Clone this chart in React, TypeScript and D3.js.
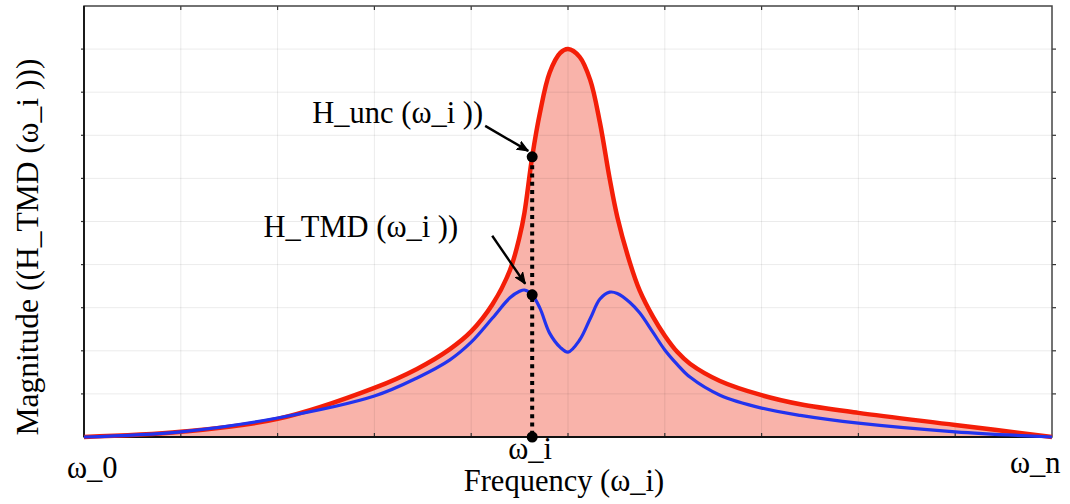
import React from "react";
import * as d3 from "d3";

// ---- data ----
const frequency = [0, 1, 2, 3, 3.44, 3.78, 4.0, 4.22, 4.4, 4.5, 4.55, 4.63, 4.71, 4.81, 4.92, 5.0, 5.12, 5.23, 5.33, 5.43, 5.51, 5.64, 5.74, 5.88, 6.0, 6.13, 6.26, 6.57, 7.0, 7.4, 8, 9, 10];
const hUnc = [0, 0.12, 0.42, 1.14, 1.58, 2.04, 2.45, 3.08, 3.87, 4.65, 5.2, 6.5, 7.52, 8.45, 8.91, 9.0, 8.82, 8.28, 7.29, 6.0, 5.1, 4.04, 3.4, 2.78, 2.35, 1.97, 1.7, 1.3, 0.97, 0.76, 0.56, 0.28, 0];
const hTmd = [0, 0.12, 0.44, 0.95, 1.37, 1.79, 2.2, 2.76, 3.23, 3.38, 3.41, 3.3, 2.99, 2.41, 2.08, 1.97, 2.25, 2.75, 3.2, 3.36, 3.33, 3.12, 2.88, 2.42, 2.02, 1.68, 1.39, 0.97, 0.67, 0.5, 0.32, 0.12, 0];
const omegaI = 4.63;
const xTickLabels = ["ω_0", "ω_i", "ω_n"];
const xDomain = [0, 10];
const yDomain = [0, 10];

const W = 1070;
const H = 504;
const FONT = "'Liberation Serif', 'Times New Roman', serif";

export default function App() {
  const x = d3.scaleLinear().domain(xDomain).range([84, 1052]);
  const y = d3.scaleLinear().domain(yDomain).range([437, 6]);

  const rows = frequency.map((f, i) => ({ f, u: hUnc[i], t: hTmd[i] }));
  const curve = d3.curveCatmullRom.alpha(0.5);
  const area = d3.area<any>().x((d) => x(d.f)).y0(y(0)).y1((d) => y(d.u)).curve(curve);
  const lineU = d3.line<any>().x((d) => x(d.f)).y((d) => y(d.u)).curve(curve);
  const lineT = d3.line<any>().x((d) => x(d.f)).y((d) => y(d.t)).curve(curve);

  const idx = frequency.indexOf(omegaI);
  const dx = x(omegaI);
  const dyU = y(hUnc[idx]);
  const dyT = y(hTmd[idx]);
  const dy0 = y(0);

  const xt = x.ticks(10);
  const yt = y.ticks(10);

  return (
    <div style={{ position: "absolute", left: 0, top: 0 }}>
      <svg width={W} height={H} style={{ display: "block", background: "#fff" }}>
        <defs>
          <marker id="ah" viewBox="0 0 12 10" refX="11" refY="5" markerWidth="12" markerHeight="10" markerUnits="userSpaceOnUse" orient="auto">
            <path d="M0,0.5 L11,5 L0,9.5 L3,5 Z" fill="#000" stroke="#000" strokeWidth="1.2" strokeLinejoin="round" />
          </marker>
        </defs>
        {/* fill */}
        <path d={area(rows) || ""} fill="#f9b3aa" />
        {/* grid */}
        <g stroke="#000" strokeOpacity={0.08} strokeWidth={1}>
          {xt.slice(1, -1).map((t) => (
            <line key={"gx" + t} x1={x(t)} x2={x(t)} y1={y(10)} y2={y(0)} />
          ))}
          {yt.slice(1, -1).map((t) => (
            <line key={"gy" + t} x1={x(0)} x2={x(10)} y1={y(t)} y2={y(t)} />
          ))}
        </g>
        {/* ticks */}
        <g stroke="#333" strokeWidth={1.2}>
          {xt.slice(1, -1).map((t) => (
            <g key={"tx" + t}>
              <line x1={x(t)} x2={x(t)} y1={y(0) - 4} y2={y(0)} />
              <line x1={x(t)} x2={x(t)} y1={y(10)} y2={y(10) + 4} />
            </g>
          ))}
          {yt.slice(1, -1).map((t) => (
            <g key={"ty" + t}>
              <line x1={x(0) - 3} x2={x(0)} y1={y(t)} y2={y(t)} />
              <line x1={x(10)} x2={x(10) + 4} y1={y(t)} y2={y(t)} />
            </g>
          ))}
        </g>
        {/* frame */}
        <rect x={x(0)} y={y(10)} width={x(10) - x(0)} height={y(0) - y(10)} fill="none" stroke="#444" strokeWidth={1.5} />
        <line x1={x(0)} x2={x(0)} y1={y(10)} y2={y(0)} stroke="#111" strokeWidth={1.8} />
        <line x1={x(0)} x2={x(10)} y1={y(0)} y2={y(0)} stroke="#111" strokeWidth={1.8} />
        {/* curves */}
        <path d={lineU(rows) || ""} fill="none" stroke="#f41e08" strokeWidth={4.5} strokeLinejoin="round" />
        <path d={lineT(rows) || ""} fill="none" stroke="#2233ee" strokeWidth={3.2} strokeLinejoin="round" />
        {/* dotted line and dots */}
        <line x1={dx} x2={dx} y1={dyU} y2={dy0} stroke="#000" strokeWidth={4} strokeDasharray="4 4.3" />
        <circle cx={dx} cy={dyU} r={5.5} fill="#000" />
        <circle cx={dx} cy={dyT} r={5.5} fill="#000" />
        <circle cx={dx} cy={dy0} r={5.5} fill="#000" />
        {/* annotations */}
        <g fontFamily={FONT} fontSize={30.5} fill="#000">
          <text x={dx - 49} y={dyU - 34} textAnchor="end">H_unc (ω_i ))</text>
          <text x={dx - 74} y={dyT - 58} textAnchor="end">H_TMD (ω_i ))</text>
        </g>
        <line x1={dx - 47} y1={dyU - 31} x2={dx - 4} y2={dyU - 6} stroke="#000" strokeWidth={2.4} markerEnd="url(#ah)" />
        <line x1={dx - 40} y1={dyT - 59} x2={dx - 7} y2={dyT - 11} stroke="#000" strokeWidth={2.4} markerEnd="url(#ah)" />
        {/* axis labels */}
        <g fontFamily={FONT} fontSize={30.5} fill="#000">
          <text x={x(0) - 17} y={478}>{xTickLabels[0]}</text>
          <text x={dx - 2} y={459} textAnchor="middle">{xTickLabels[1]}</text>
          <text x={x(10) - 42} y={473}>{xTickLabels[2]}</text>
          <text x={564} y={491} textAnchor="middle">Frequency (ω_i)</text>
          <text transform="translate(38,247) rotate(-90)" textAnchor="middle" fontSize={31.5}>Magnitude ((H_TMD (ω_i )))</text>
        </g>
      </svg>
    </div>
  );
}
